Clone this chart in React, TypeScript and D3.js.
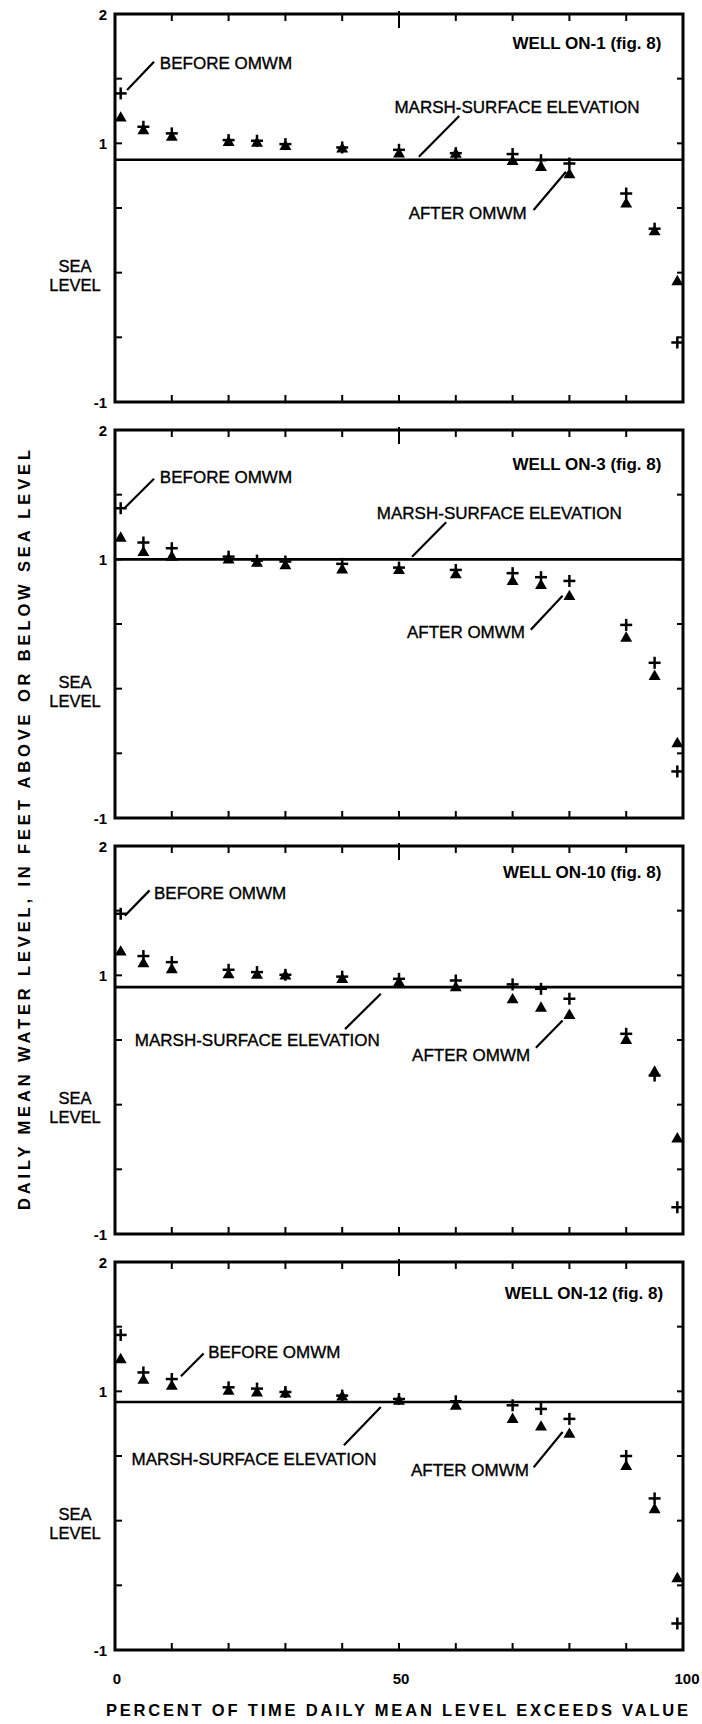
import React from "react";
import * as d3 from "d3";

// percent of time the daily mean level is exceeded (shared by all wells)
const percentExceeded = [1, 5, 10, 20, 25, 30, 40, 50, 60, 70, 75, 80, 90, 95, 99];

const wellNames = ["WELL ON-1 (fig. 8)", "WELL ON-3 (fig. 8)", "WELL ON-10 (fig. 8)", "WELL ON-12 (fig. 8)"];

// daily mean water level, feet above/below sea level
const beforeOn1 = [1.386, 1.128, 1.077, 1.025, 1.02, 0.994, 0.968, 0.95, 0.924, 0.917, 0.87, 0.844, 0.612, 0.34, -0.54];
const afterOn1 = [1.195, 1.097, 1.046, 1.007, 1.0, 0.976, 0.955, 0.917, 0.915, 0.86, 0.813, 0.757, 0.53, 0.316, -0.07];
const beforeOn3 = [1.395, 1.13, 1.086, 1.021, 0.99, 0.983, 0.965, 0.936, 0.918, 0.893, 0.862, 0.833, 0.493, 0.2, -0.64];
const afterOn3 = [1.163, 1.052, 1.016, 0.995, 0.97, 0.95, 0.918, 0.913, 0.88, 0.828, 0.797, 0.712, 0.39, 0.094, -0.426];
const beforeOn10 = [1.476, 1.149, 1.102, 1.043, 1.025, 1.004, 0.99, 0.973, 0.96, 0.93, 0.896, 0.819, 0.548, 0.225, -0.793];
const afterOn10 = [1.18, 1.09, 1.043, 1.004, 1.0, 0.994, 0.968, 0.942, 0.904, 0.81, 0.746, 0.69, 0.496, 0.251, -0.265];
const beforeOn12 = [1.436, 1.146, 1.095, 1.031, 1.021, 0.995, 0.967, 0.941, 0.923, 0.892, 0.864, 0.787, 0.5, 0.172, -0.795];
const afterOn12 = [1.244, 1.085, 1.038, 1.0, 0.987, 0.979, 0.956, 0.923, 0.885, 0.782, 0.723, 0.667, 0.418, 0.085, -0.449];

const beforeSeries = [beforeOn1, beforeOn3, beforeOn10, beforeOn12];
const afterSeries = [afterOn1, afterOn3, afterOn10, afterOn12];
const marshSurface = [0.873, 1.0, 0.909, 0.918];

const yTickLabels = [2, 1, -1];
const xTickLabels = [0, 50, 100];

// annotation anchors in data units [percent, feet]
const wellLabelAt = [[96.2, 1.773], [96.2, 1.737], [96.2, 1.799], [96.5, 1.763]];
const beforeLabelAt = [[7.9, 1.619], [7.9, 1.633], [6.87, 1.639], [16.4, 1.304]];
const beforeLeader = [[2.13, 1.412, 6.87, 1.631], [1.74, 1.399, 6.87, 1.623], [1.74, 1.461, 6.09, 1.657], [11.6, 1.116, 15.6, 1.292]];
const marshLabelAt = [[49.2, 1.283], [46.1, 1.355], [3.49, 0.497], [2.9, 0.48]];
const marshLeader = [[53.5, 0.897, 60.6, 1.211], [52.3, 1.02, 58.3, 1.286], [40.5, 0.584, 46.8, 0.858], [40.3, 0.583, 46.8, 0.879]];
const afterLabelAt = [[51.7, 0.459], [51.4, 0.435], [52.3, 0.386], [52.1, 0.39]];
const afterLeader = [[73.7, 0.484, 79.4, 0.78], [73.2, 0.456, 78.8, 0.719], [74.1, 0.44, 78.8, 0.651], [73.7, 0.412, 78.8, 0.686]];

const W = 702;
const H = 1724;
const left = 115;
const right = 683;
const firstTop = 14;
const panelStep = 416;
const panelH = 388;
const FONT = "'Liberation Sans', Arial, Helvetica, sans-serif";

const x = d3.scaleLinear().domain([0, 100]).range([left, right]);
const triangle = d3.symbol().type(d3.symbolTriangle).size(62)();

const Panel = ({ i }: { i: number }) => {
  const top = firstTop + i * panelStep;
  const y = d3.scaleLinear().domain([-1, 2]).range([top + panelH, top]);
  const xMinor = d3.range(10, 100, 10);
  const yMinor = d3.range(-0.5, 2, 0.5);
  const lead = (l: number[], k: string) => (
    <line key={k} x1={x(l[0])} y1={y(l[1])} x2={x(l[2])} y2={y(l[3])} stroke="#000" strokeWidth={2.2} />
  );
  const label = { fontSize: 17, stroke: "#000", strokeWidth: 0.35 };
  return (
    <g>
      {/* frame */}
      <rect x={left} y={top} width={right - left} height={panelH} fill="none" stroke="#000" strokeWidth={3} />
      {xMinor.map((t) => (
        <g key={"xt" + t}>
          <line x1={x(t)} x2={x(t)} y1={t === 50 ? top - 3 : top} y2={top + (t === 50 ? 14 : 7)} stroke="#000" strokeWidth={2} />
          <line x1={x(t)} x2={x(t)} y1={top + panelH} y2={top + panelH - 7} stroke="#000" strokeWidth={2} />
        </g>
      ))}
      {yMinor.map((t) => (
        <g key={"yt" + t}>
          <line x1={left} x2={left + 7} y1={y(t)} y2={y(t)} stroke="#000" strokeWidth={2} />
          <line x1={right} x2={right - 6} y1={y(t)} y2={y(t)} stroke="#000" strokeWidth={2} />
        </g>
      ))}
      {yTickLabels.map((t) => (
        <text key={"yl" + t} x={107} y={y(t) + 5.5} textAnchor="end" fontSize={15} fontWeight="bold">
          {t}
        </text>
      ))}
      <text x={75} y={y(0)} textAnchor="middle" {...label} fontSize={16.5}>
        <tspan x={75} dy={-1}>SEA</tspan>
        <tspan x={75} dy={19}>LEVEL</tspan>
      </text>

      {/* marsh surface */}
      <line x1={left} x2={right} y1={y(marshSurface[i])} y2={y(marshSurface[i])} stroke="#000" strokeWidth={2.6} />

      {/* after OMWM: triangles */}
      {afterSeries[i].map((v, j) => (
        <path key={"a" + j} d={triangle as string} transform={`translate(${x(percentExceeded[j])},${y(v)})`} fill="#000" />
      ))}
      {/* before OMWM: plus */}
      {beforeSeries[i].map((v, j) => {
        const cx = x(percentExceeded[j]);
        const cy = y(v);
        return (
          <g key={"b" + j} stroke="#000" strokeWidth={2.5}>
            <line x1={cx - 6} x2={cx + 6} y1={cy} y2={cy} />
            <line x1={cx} x2={cx} y1={cy - 6} y2={cy + 6} />
          </g>
        );
      })}

      {/* annotations */}
      <text x={x(wellLabelAt[i][0])} y={y(wellLabelAt[i][1]) + 6} textAnchor="end" fontSize={17} fontWeight="bold">
        {wellNames[i]}
      </text>
      <text x={x(beforeLabelAt[i][0])} y={y(beforeLabelAt[i][1]) + 6} {...label}>BEFORE OMWM</text>
      {lead(beforeLeader[i], "bl")}
      <text x={x(marshLabelAt[i][0])} y={y(marshLabelAt[i][1]) + 6} {...label}>MARSH-SURFACE ELEVATION</text>
      {lead(marshLeader[i], "ml")}
      <text x={x(afterLabelAt[i][0])} y={y(afterLabelAt[i][1]) + 6} {...label}>AFTER OMWM</text>
      {lead(afterLeader[i], "al")}
    </g>
  );
};

export default function App() {
  const bottom = firstTop + 3 * panelStep + panelH;
  return (
    <svg
      width={W}
      height={H}
      viewBox={`0 0 ${W} ${H}`}
      style={{ position: "absolute", left: 0, top: 0, background: "#fff" }}
      fontFamily={FONT}
      fill="#000"
    >
      {wellNames.map((_, i) => (
        <Panel key={i} i={i} />
      ))}
      {xTickLabels.map((t) => (
        <text key={"xl" + t} x={x(t) + (t === 100 ? 4 : 2)} y={bottom + 34} textAnchor="middle" fontSize={15} fontWeight="bold">
          {t}
        </text>
      ))}
      <text x={397} y={bottom + 66} textAnchor="middle" fontSize={16.5} fontWeight="bold" textLength={582} lengthAdjust="spacing">
        PERCENT OF TIME DAILY MEAN LEVEL EXCEEDS VALUE
      </text>
      <text
        transform="translate(30,830) rotate(-90)"
        textAnchor="middle"
        fontSize={16.5}
        fontWeight="bold"
        textLength={760}
        lengthAdjust="spacing"
      >
        DAILY MEAN WATER LEVEL, IN FEET ABOVE OR BELOW SEA LEVEL
      </text>
    </svg>
  );
}
